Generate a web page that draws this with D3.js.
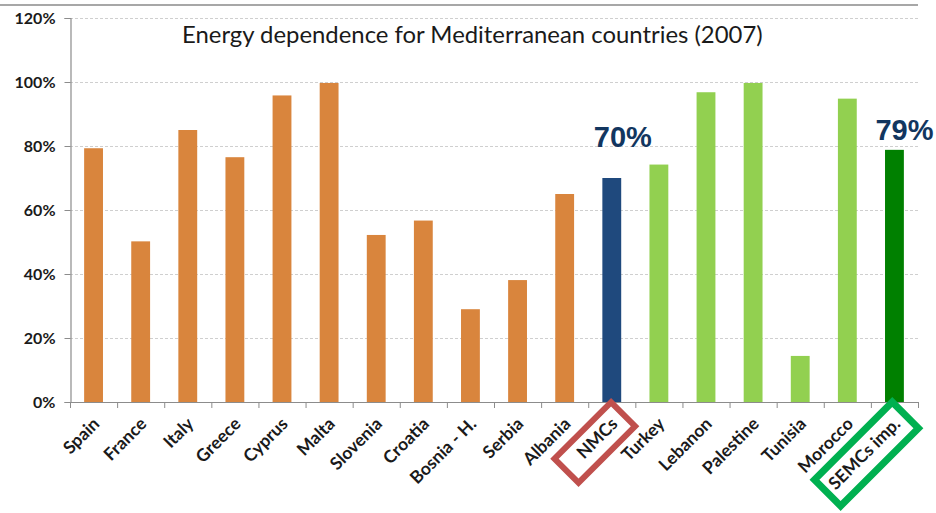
<!DOCTYPE html>
<html>
<head>
<meta charset="utf-8">
<script src="https://cdn.jsdelivr.net/npm/d3@7"></script>
<style>
  html, body { margin: 0; padding: 0; background: #fff; }
  svg { display: block; }
</style>
</head>
<body>
<svg id="chart" width="936" height="513"></svg>
<script>
// ---- data ----
const categories = ["Spain","France","Italy","Greece","Cyprus","Malta","Slovenia","Croatia","Bosnia - H.","Serbia","Albania","NMCs","Turkey","Lebanon","Palestine","Tunisia","Morocco","SEMCs imp."];
const values = [79.3, 50.2, 85.0, 76.5, 95.8, 99.7, 52.2, 56.7, 29.0, 38.1, 65.0, 70.0, 74.2, 96.8, 99.7, 14.4, 94.8, 78.8];
const groups = ["nmc","nmc","nmc","nmc","nmc","nmc","nmc","nmc","nmc","nmc","nmc","nmcAvg","semc","semc","semc","semc","semc","semcAvg"];
const yTicks = [0, 20, 40, 60, 80, 100, 120];
const highlighted = ["NMCs", "SEMCs imp."];
const title = "Energy dependence for Mediterranean countries (2007)";

(function () {
// ---- styles ----
const colors = { nmc: "#D9853D", nmcAvg: "#1F497D", semc: "#92D050", semcAvg: "#008000" };
const boxColors = { "NMCs": "#C0504D", "SEMCs imp.": "#00B050" };
const labelOffsets = { "NMCs": { dx: 11, dy: -31 }, "SEMCs imp.": { dx: 10, dy: -10 } };

const svg = d3.select("#chart");
const mLeft = 70, mRight = 918, mTop = 18, mBottom = 402;

const x = d3.scaleBand().domain(categories).range([mLeft, mRight]).paddingInner(0.6).paddingOuter(0.3);
const y = d3.scaleLinear().domain([0, 120]).range([mBottom, mTop]);

// top border line
svg.append("line").attr("x1", 0).attr("x2", mRight).attr("y1", 5).attr("y2", 5)
  .attr("stroke", "#8a8a8a").attr("stroke-width", 1.5);

// gridlines
svg.append("g").selectAll("line").data(yTicks.filter(d => d > 0)).join("line")
  .attr("x1", mLeft).attr("x2", mRight)
  .attr("y1", d => y(d) + 0.5).attr("y2", d => y(d) + 0.5)
  .attr("stroke", "#cfcfcf").attr("stroke-width", 1).attr("stroke-dasharray", "3,2");

// y axis
const yAxis = svg.append("g").attr("transform", `translate(${mLeft + 0.5},0)`)
  .call(d3.axisLeft(y).tickValues(yTicks).tickFormat(d => d + "%").tickSize(6).tickPadding(9));
yAxis.select(".domain").attr("stroke", "#8c8c8c").attr("stroke-width", 1.2);
yAxis.selectAll(".tick line").attr("stroke", "#8c8c8c");
yAxis.selectAll("text").attr("font-family", "Lato, 'Open Sans', sans-serif")
  .attr("font-weight", "bold").attr("font-size", 16).attr("fill", "#1a1a1a");

// bars
svg.append("g").selectAll("rect").data(categories).join("rect")
  .attr("x", d => x(d))
  .attr("width", x.bandwidth())
  .attr("y", (d, i) => y(values[i]))
  .attr("height", (d, i) => y(0) - y(values[i]))
  .attr("fill", (d, i) => colors[groups[i]]);

// x axis
const step = x.step();
const xg = svg.append("g");
xg.append("line").attr("x1", mLeft).attr("x2", mRight).attr("y1", mBottom + 0.5).attr("y2", mBottom + 0.5)
  .attr("stroke", "#8c8c8c").attr("stroke-width", 1.2);
xg.selectAll("line.tick").data(d3.range(categories.length + 1)).join("line").attr("class", "tick")
  .attr("x1", i => mLeft + i * step + 0.5).attr("x2", i => mLeft + i * step + 0.5)
  .attr("y1", mBottom).attr("y2", mBottom + 6)
  .attr("stroke", "#8c8c8c").attr("stroke-width", 1);

// category labels
xg.selectAll("text").data(categories).join("text")
  .attr("transform", d => `translate(${x(d) + x.bandwidth() / 2 + 7},${mBottom + 23}) rotate(-45)`)
  .attr("text-anchor", "end")
  .attr("font-family", "Lato, 'Open Sans', sans-serif")
  .attr("font-weight", "bold").attr("font-size", 17.5).attr("fill", "#1a1a1a")
  .text(d => d);

// highlight boxes
const boxes = [
  { cat: "NMCs", dx: -17, cy: 442.5, w: 80, h: 34, sw: 6 },
  { cat: "SEMCs imp.", dx: -28, cy: 454, w: 110, h: 37, sw: 7 }
];
svg.append("g").selectAll("rect").data(boxes).join("rect")
  .attr("transform", b => `translate(${x(b.cat) + x.bandwidth() / 2 + b.dx},${b.cy}) rotate(-45)`)
  .attr("x", b => -b.w / 2).attr("y", b => -b.h / 2)
  .attr("width", b => b.w).attr("height", b => b.h)
  .attr("fill", "none").attr("stroke", b => boxColors[b.cat]).attr("stroke-width", b => b.sw);

// value labels for the aggregates
svg.append("g").selectAll("text").data(highlighted).join("text")
  .attr("x", d => x(d) + x.bandwidth() / 2 + labelOffsets[d].dx)
  .attr("y", d => y(values[categories.indexOf(d)]) + labelOffsets[d].dy)
  .attr("text-anchor", "middle")
  .attr("font-family", "'Liberation Sans', Arial, sans-serif")
  .attr("font-weight", "bold").attr("font-size", 29).attr("fill", "#12365F")
  .text(d => Math.round(values[categories.indexOf(d)]) + "%");

// title
const t = svg.append("text")
  .attr("x", 182).attr("y", 43)
  .attr("font-family", "Lato, 'Open Sans', sans-serif")
  .attr("font-size", 22).attr("fill", "#1a1a1a")
  .text(title);
const tw = t.node().getComputedTextLength();
t.attr("font-size", 22 * 581 / tw);
})();
</script>
</body>
</html>
